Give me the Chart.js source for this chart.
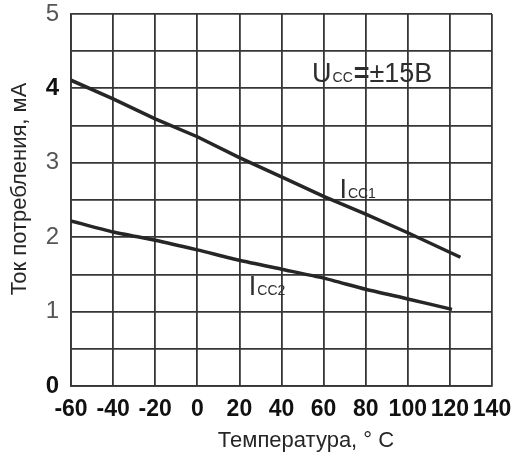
<!DOCTYPE html>
<html>
<head>
<meta charset="utf-8">
<script src="https://cdn.jsdelivr.net/npm/chart.js@4.4.0/dist/chart.umd.min.js"></script>
<style>
  html, body { margin: 0; padding: 0; background: #fff; }
  #wrap { width: 527px; height: 466px; position: relative; }
</style>
</head>
<body>
<div id="wrap"><canvas id="c"></canvas></div>
<script>
  // data
  const tempIcc1 = [-60, -40, -20, 0, 20, 40, 60, 80, 100, 125];
  const icc1 = [4.11, 3.86, 3.59, 3.35, 3.07, 2.81, 2.55, 2.31, 2.06, 1.73];
  const tempIcc2 = [-60, -40, -20, 0, 20, 40, 60, 80, 100, 121];
  const icc2 = [2.22, 2.07, 1.96, 1.83, 1.69, 1.57, 1.45, 1.30, 1.17, 1.03];
  const xTicks = [-60, -40, -20, 0, 20, 40, 60, 80, 100, 120, 140];
  const yLabels = [0, 1, 2, 3, 4, 5];

  const FONT = '"Liberation Sans", Arial, sans-serif';
  const INK = "#262626";
  const GRID = "#363636";

  const pts = (xs, ys) => xs.map((x, i) => ({ x, y: ys[i] }));

  // labels drawn on top of the plot, placed in data units
  const notes = {
    id: "notes",
    afterDraw(chart) {
      const { ctx, scales: { x, y } } = chart;
      ctx.save();
      ctx.fillStyle = "#2e2e2e";
      ctx.textBaseline = "alphabetic";
      ctx.textAlign = "left";

      function sub(main, small, tx, ty, size) {
        ctx.font = size + "px " + FONT;
        const px = x.getPixelForValue(tx), py = y.getPixelForValue(ty);
        ctx.fillText(main, px, py);
        const w = ctx.measureText(main).width;
        ctx.font = Math.round(size * 0.5) + "px " + FONT;
        ctx.fillText(small, px + w + 1, py);
      }
      sub("I", "CC1", 67.5, 2.53, 27);
      sub("I", "CC2", 24.5, 1.22, 27);

      // Ucc = ±15 B
      ctx.font = "27px " + FONT;
      let px = x.getPixelForValue(54.5), py = y.getPixelForValue(4.09);
      ctx.fillText("U", px, py);
      px += ctx.measureText("U").width + 1;
      ctx.font = "14px " + FONT;
      ctx.fillText("CC", px, py);
      px += ctx.measureText("CC").width + 1;
      ctx.font = "bold 27px " + FONT;
      ctx.fillText("=", px, py);
      px += ctx.measureText("=").width;
      ctx.font = "27px " + FONT;
      ctx.fillText("±15B", px, py);

      // axis titles
      ctx.fillStyle = "#262626";
      ctx.font = "22px " + FONT;
      ctx.textAlign = "center";
      ctx.textBaseline = "middle";
      ctx.fillText("Температура, ° С", 306, 441);
      ctx.translate(20, 189);
      ctx.rotate(-Math.PI / 2);
      ctx.fillText("Ток потребления, мА", 0, 0);
      ctx.restore();
    }
  };

  new Chart(document.getElementById("c"), {
    type: "scatter",
    data: {
      datasets: [
        { label: "Icc1", data: pts(tempIcc1, icc1), showLine: true, borderColor: INK, borderWidth: 3.5, pointRadius: 0, tension: 0 },
        { label: "Icc2", data: pts(tempIcc2, icc2), showLine: true, borderColor: INK, borderWidth: 3.5, pointRadius: 0, tension: 0.2 },
      ],
    },
    options: {
      responsive: true, maintainAspectRatio: false, animation: false,
      layout: { padding: { top: 14, right: 35, left: 0, bottom: 0 } },
      plugins: { legend: { display: false }, tooltip: { enabled: false } },
      scales: {
        x: {
          type: "linear", min: -60, max: 140,
          afterBuildTicks: (s) => { s.ticks = xTicks.map((v) => ({ value: v })); },
          afterFit: (s) => { s.height = 80; s.paddingLeft = 0; s.paddingRight = 0; },
          grid: { color: GRID, lineWidth: 1.8, drawTicks: false },
          border: { color: GRID, width: 1.8 },
          ticks: { autoSkip: false, maxRotation: 0, padding: 10, color: "#111",
                   font: { family: FONT, size: 23, weight: "bold" } },
        },
        y: {
          min: 0, max: 5,
          ticks: {
            stepSize: 0.5, padding: 12, autoSkip: false,
            callback: (v) => (yLabels.includes(v) ? String(v) : ""),
            color: (c) => (c.tick && (c.tick.value === 4 || c.tick.value === 0) ? "#111" : "#555"),
            font: (c) => ({ family: FONT, size: 24,
              weight: c.tick && (c.tick.value === 4 || c.tick.value === 0) ? "bold" : "normal" }),
          },
          afterFit: (s) => { s.width = 71; s.paddingTop = 0; s.paddingBottom = 0; },
          grid: { color: GRID, lineWidth: 1.8, drawTicks: false },
          border: { color: GRID, width: 1.8 },
        },
      },
    },
    plugins: [notes],
  });
</script>
</body>
</html>
